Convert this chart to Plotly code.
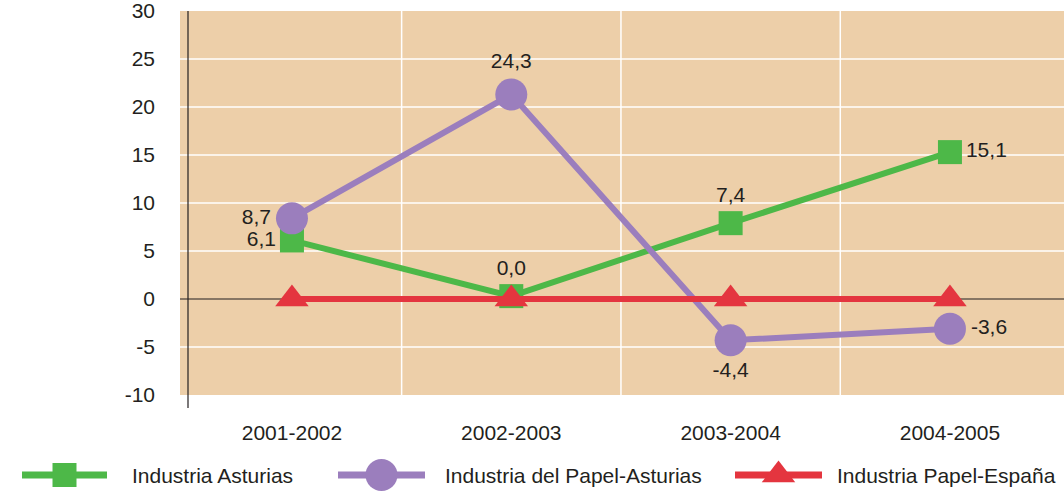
import plotly.graph_objects as go

# periodos
periodos = ['2001-2002', '2002-2003', '2003-2004', '2004-2005']

# valores (posicion) y rotulos impresos
ind_asturias = [6.1, 0.3, 7.9, 15.3]
ind_asturias_txt = ['6,1', '0,0', '7,4', '15,1']
papel_asturias = [8.4, 21.3, -4.3, -3.1]
papel_asturias_txt = ['8,7', '24,3', '-4,4', '-3,6']
papel_espana = [0, 0, 0, 0]

y_ticks = [-10, -5, 0, 5, 10, 15, 20, 25, 30]
y_tick_labels = ['-10', '-5', '0', '5', '10', '15', '20', '25', '30']

series = ['Industria Asturias', 'Industria del Papel-Asturias', 'Industria Papel-España']
colores = ['#4DB848', '#9B7EBD', '#E4353F']
simbolos = ['square', 'circle', 'triangle-up']
tamanos = [24, 32, 29]

FONT = 'Liberation Sans, Arial, sans-serif'
TXT = '#231F20'
TAN = '#EDCFA9'
FS = 21

W, H = 1064, 493
MT = 11
PLOT_H = H - MT           # alto total del area de ejes
MAIN_H = 384              # alto del grafico principal
X_LEFT = 188              # posicion del eje Y
y_dom0 = (PLOT_H - MAIN_H) / PLOT_H
x_dom0 = X_LEFT / W

fig = go.Figure()

datos = [ind_asturias, papel_asturias, papel_espana]
textos = [ind_asturias_txt, papel_asturias_txt, None]
posiciones = [['middle left', 'top center', 'top center', 'middle right'],
              ['middle left', 'top center', 'bottom center', 'middle right'],
              None]

for nombre, vals, txt, pos, col, sim, tam in zip(series, datos, textos, posiciones,
                                                  colores, simbolos, tamanos):
    fig.add_trace(go.Scatter(
        x=periodos, y=vals, name=nombre,
        mode='lines+markers+text' if txt else 'lines+markers',
        text=txt, textposition=pos,
        line=dict(color=col, width=6),
        marker=dict(symbol=sim, size=tam, color=col),
        textfont=dict(family=FONT, size=FS, color=TXT),
        showlegend=False, cliponaxis=False))

# leyenda propia (eje auxiliar en pixeles)
leyenda_x = [(22, 107, 130), (338, 425, 443), (735, 822, 835)]
annotations = []
for (x0, x1, xt), nombre, col, sim, tam in zip(leyenda_x, series, colores, simbolos, tamanos):
    fig.add_trace(go.Scatter(
        x=[x0, x1], y=[0, 0], mode='lines', line=dict(color=col, width=7),
        xaxis='x2', yaxis='y2', showlegend=False, hoverinfo='skip'))
    fig.add_trace(go.Scatter(
        x=[(x0 + x1) / 2], y=[0], mode='markers',
        marker=dict(symbol=sim, size=tam, color=col, opacity=1),
        xaxis='x2', yaxis='y2', showlegend=False, hoverinfo='skip', cliponaxis=False))
    annotations.append(dict(xref='x2', yref='y2', x=xt, y=0, text=nombre, showarrow=False,
                            xanchor='left', yanchor='middle',
                            font=dict(family=FONT, size=FS, color=TXT)))

# fondo, rejilla y ejes dibujados a mano para que sobresalgan a la izquierda
ext = -8 / (W - X_LEFT)
shapes = [dict(type='rect', xref='x domain', yref='y domain', x0=ext, x1=1, y0=0, y1=1,
               fillcolor=TAN, line=dict(width=0), layer='below')]
for v in y_ticks:
    if v in (-10, 0, 30):
        continue
    shapes.append(dict(type='line', xref='x domain', yref='y', x0=ext, x1=1, y0=v, y1=v,
                       line=dict(color='white', width=1.5), layer='below'))
for i in range(len(periodos) - 1):
    shapes.append(dict(type='line', xref='x', yref='y domain', x0=i + 0.5, x1=i + 0.5, y0=0, y1=1,
                       line=dict(color='white', width=1.5), layer='below'))
shapes.append(dict(type='line', xref='x domain', yref='y', x0=ext, x1=1, y0=0, y1=0,
                   line=dict(color=TXT, width=1.2), layer='below'))
shapes.append(dict(type='line', xref='x domain', yref='y domain', x0=0, x1=0, y0=-13 / MAIN_H, y1=1,
                   line=dict(color=TXT, width=1.2), layer='below'))

fig.update_layout(
    width=W, height=H,
    margin=dict(l=0, r=0, t=MT, b=0, autoexpand=False),
    paper_bgcolor='white', plot_bgcolor='rgba(0,0,0,0)',
    font=dict(family=FONT, size=FS, color=TXT),
    shapes=shapes, annotations=annotations,
    showlegend=False,
    xaxis=dict(domain=[x_dom0, 1], range=[-0.474, 3.52], showgrid=False, zeroline=False,
               showline=False, ticks='', ticklabelstandoff=23, tickfont=dict(size=FS),
               automargin=False),
    yaxis=dict(domain=[y_dom0, 1], range=[-10, 30], tickvals=y_ticks, ticktext=y_tick_labels,
               showgrid=False, zeroline=False, showline=False, ticks='',
               ticklabelstandoff=32, ticklabeloverflow='allow', tickfont=dict(size=FS),
               automargin=False),
    xaxis2=dict(domain=[0, 1], range=[0, W], anchor='y2', visible=False, fixedrange=True,
                automargin=False),
    yaxis2=dict(domain=[0, 36 / PLOT_H], range=[-1, 1], anchor='x2', visible=False,
                fixedrange=True, automargin=False),
)

# quitar el margen por defecto del body para que la figura ocupe toda la ventana
css = ("var s=document.createElement('style');"
       "s.textContent='html,body{margin:0;padding:0;overflow:hidden;}';"
       "document.head.appendChild(s);")
fig.write_html('out.html', config={'displayModeBar': False}, post_script=css)
